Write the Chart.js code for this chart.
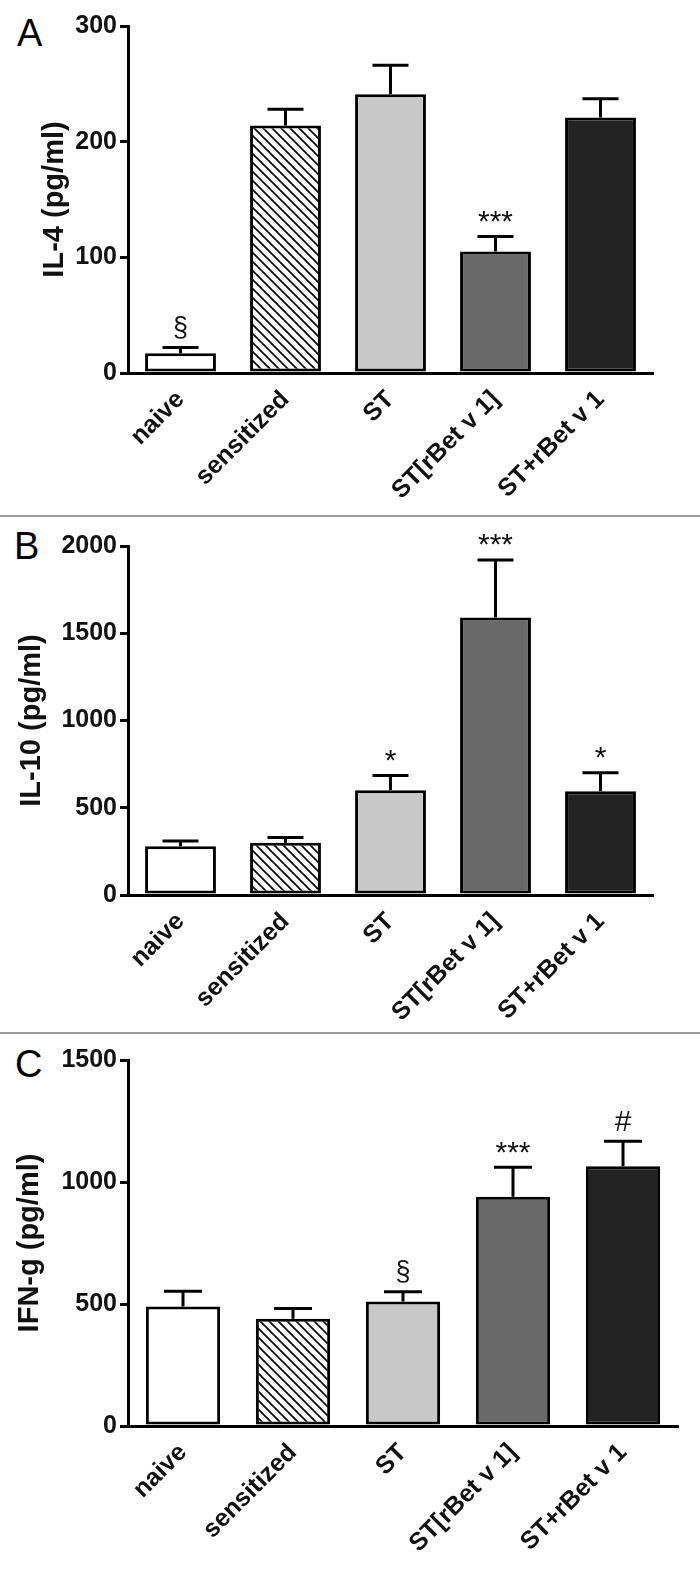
<!DOCTYPE html>
<html>
<head>
<meta charset="utf-8">
<script src="https://cdn.jsdelivr.net/npm/chart.js@4.4.1/dist/chart.umd.min.js"></script>
<style>
  html, body { margin: 0; padding: 0; background: #fff; }
  #wrap { position: relative; width: 700px; height: 1570px; overflow: hidden; background: #fff; }
  .panel { position: absolute; left: 0; width: 700px; }
  .letter { position: absolute; font-family: 'Liberation Sans', Arial, sans-serif; font-size: 38px; line-height: 38px; color: #000; }
  .sep { position: absolute; left: 0; width: 700px; height: 2px; background: #9a9a9a; }
</style>
</head>
<body>
<div id="wrap">
  <div class="letter" style="left:17px; top:14px;">A</div>
  <div class="panel" style="top:0; height:516px;"><canvas id="cA" width="700" height="516"></canvas></div>
  <div class="sep" style="top:515px;"></div>
  <div class="letter" style="left:14px; top:527px;">B</div>
  <div class="panel" style="top:517px; height:516px;"><canvas id="cB" width="700" height="516"></canvas></div>
  <div class="sep" style="top:1032px;"></div>
  <div class="letter" style="left:15px; top:1045px;">C</div>
  <div class="panel" style="top:1034px; height:536px;"><canvas id="cC" width="700" height="536"></canvas></div>
</div>
<script>
// ---- data ----
const categories = ['naive', 'sensitized', 'ST', 'ST[rBet v 1]', 'ST+rBet v 1'];

const il4Means  = [17, 214, 241, 105, 221];
const il4Errors = [5, 14, 25, 13, 16];
const il4Marks  = ['§', '', '', '***', ''];
const il4Ticks  = [0, 100, 200, 300];

const il10Means  = [280, 300, 600, 1590, 595];
const il10Errors = [30, 30, 85, 330, 105];
const il10Marks  = ['', '', '*', '***', '*'];
const il10Ticks  = [0, 500, 1000, 1500, 2000];

const ifngMeans  = [490, 440, 510, 940, 1065];
const ifngErrors = [62, 42, 40, 120, 102];
const ifngMarks  = ['', '', '§', '***', '#'];
const ifngTicks  = [0, 500, 1000, 1500];

// ---- styles ----
const FONT = "'Liberation Sans', Arial, Helvetica, sans-serif";

function hatchPattern() {
  const s = 9;
  const c = document.createElement('canvas');
  c.width = s; c.height = s;
  const g = c.getContext('2d');
  g.fillStyle = '#fff';
  g.fillRect(0, 0, s, s);
  g.strokeStyle = '#000';
  g.lineWidth = 1.6;
  g.beginPath();
  g.moveTo(-2, -2); g.lineTo(s + 2, s + 2);
  g.moveTo(-2 - s, -2); g.lineTo(2, s + 2);
  g.moveTo(s - 2, -2); g.lineTo(2 * s + 2, s + 2);
  g.stroke();
  return g.createPattern(c, 'repeat');
}

function barFills() {
  return ['#ffffff', hatchPattern(), '#c8c8c8', '#696969', '#232323'];
}

function errorPlugin(means, errors, marks, capHalf) {
  return {
    id: 'errbars',
    afterDatasetsDraw(chart) {
      const ctx = chart.ctx;
      const meta = chart.getDatasetMeta(0);
      const y = chart.scales.y;
      ctx.save();
      ctx.strokeStyle = '#000';
      ctx.lineWidth = 3;
      meta.data.forEach((bar, i) => {
        const x = bar.x;
        const yb = y.getPixelForValue(means[i]);
        const yt = y.getPixelForValue(means[i] + errors[i]);
        ctx.beginPath();
        ctx.moveTo(x, yb); ctx.lineTo(x, yt);
        ctx.moveTo(x - capHalf, yt); ctx.lineTo(x + capHalf, yt);
        ctx.stroke();
        if (marks[i]) {
          ctx.font = (marks[i] === '§' ? '27px ' : '30px ') + FONT;
          ctx.fillStyle = '#111';
          ctx.textAlign = 'center';
          ctx.textBaseline = 'alphabetic';
          const m = ctx.measureText(marks[i]);
          const cy = yt - 20;
          const base = cy + (m.actualBoundingBoxAscent - m.actualBoundingBoxDescent) / 2;
          ctx.fillText(marks[i], x, base);
        }
      });
      ctx.restore();
    }
  };
}

function makeChart(id, means, errors, marks, ticks, title, opt) {
  const canvas = document.getElementById(id);
  const ctx = canvas.getContext('2d');
  return new Chart(ctx, {
    type: 'bar',
    data: {
      labels: categories,
      datasets: [{
        data: means,
        backgroundColor: barFills(),
        borderColor: '#000',
        borderWidth: 3,
        borderSkipped: false,
        barPercentage: 0.675,
        categoryPercentage: 1.0
      }]
    },
    options: {
      responsive: false,
      animation: false,
      events: [],
      layout: { padding: { top: opt.top, right: opt.right, bottom: 0, left: 0 } },
      plugins: { legend: { display: false }, tooltip: { enabled: false } },
      scales: {
        x: {
          grid: { display: false },
          border: { display: true, color: '#000', width: 3 },
          ticks: {
            color: '#111',
            font: { family: FONT, size: 25, weight: 'bold' },
            minRotation: 45, maxRotation: 45,
            padding: 4,
            autoSkip: false
          },
          afterFit(scale) { scale.height = opt.xh; }
        },
        y: {
          min: ticks[0],
          max: ticks[ticks.length - 1],
          grid: { drawOnChartArea: false, drawTicks: true, tickLength: 8, color: '#000', lineWidth: 3 },
          border: { display: true, color: '#000', width: 3 },
          ticks: {
            stepSize: ticks[1] - ticks[0],
            color: '#111',
            padding: 3,
            font: { family: FONT, size: 25, weight: 'bold' },
            callback: (v) => String(v)
          },
          title: {
            display: true,
            text: title,
            color: '#111',
            font: { family: FONT, size: 29, weight: 'bold' },
            padding: { top: opt.titlePad, bottom: 0 }
          },
          afterFit(scale) { scale.width = 128; }
        }
      }
    },
    plugins: [errorPlugin(means, errors, marks, opt.cap)]
  });
}

makeChart('cA', il4Means, il4Errors, il4Marks, il4Ticks, 'IL-4 (pg/ml)',
  { top: 26, right: 47, xh: 143, titlePad: 38, cap: 18 });
makeChart('cB', il10Means, il10Errors, il10Marks, il10Ticks, 'IL-10 (pg/ml)',
  { top: 29, right: 47, xh: 138, titlePad: 15, cap: 18 });
makeChart('cC', ifngMeans, ifngErrors, ifngMarks, ifngTicks, 'IFN-g (pg/ml)',
  { top: 26, right: 22, xh: 144, titlePad: 13, cap: 19 });
</script>
</body>
</html>
